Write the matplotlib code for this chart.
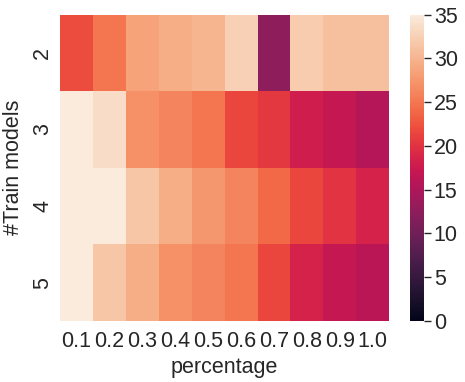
import matplotlib
matplotlib.use("Agg")
import matplotlib.pyplot as plt
import seaborn as sns
import numpy as np
import pandas as pd

sns.set_theme(style="white")
plt.rcParams['font.family'] = ['Liberation Sans', 'DejaVu Sans']

percentages = ["0.1", "0.2", "0.3", "0.4", "0.5", "0.6", "0.7", "0.8", "0.9", "1.0"]
train_models = ["2", "3", "4", "5"]
row2 = [22, 25, 28.5, 29.5, 30, 32.5, 12.5, 32, 31, 31]
row3 = [35, 33.5, 27, 26, 25, 21.5, 20.5, 18, 17, 15.5]
row4 = [35, 35, 31.5, 29.5, 27.5, 26, 24, 21.5, 20, 18.5]
row5 = [35, 31.5, 29.5, 27, 26, 25, 21.5, 18.5, 17, 16]

df = pd.DataFrame([row2, row3, row4, row5], index=train_models, columns=percentages)

fig = plt.figure(figsize=(4.65, 3.82), dpi=100)
ax = fig.add_axes([0.129, 0.16, 0.708, 0.802])
cax = fig.add_axes([0.882, 0.16, 0.030, 0.802])
sns.heatmap(df, ax=ax, cbar_ax=cax, cmap="rocket", vmin=0, vmax=35,
            cbar_kws={"ticks": [0, 5, 10, 15, 20, 25, 30, 35]})
ax.set_xlabel("percentage", fontsize=15.5, color="#262626", labelpad=4)
ax.set_ylabel("#Train models", fontsize=15.5, color="#262626", labelpad=6)
ax.tick_params(axis="x", length=0, labelsize=15.5, colors="#262626", pad=7)
ax.tick_params(axis="y", length=0, labelsize=15.5, colors="#262626", pad=5)
ax.set_yticklabels(train_models, rotation=90, va="center")
ax.set_xticklabels(percentages, rotation=0)
cax.tick_params(labelsize=15.5, length=5, width=1, colors="#262626", pad=2)
cax.yaxis.set_tick_params(which="major", direction="out")
for s in cax.spines.values():
    s.set_visible(False)
fig.savefig("out.png", dpi=100)
